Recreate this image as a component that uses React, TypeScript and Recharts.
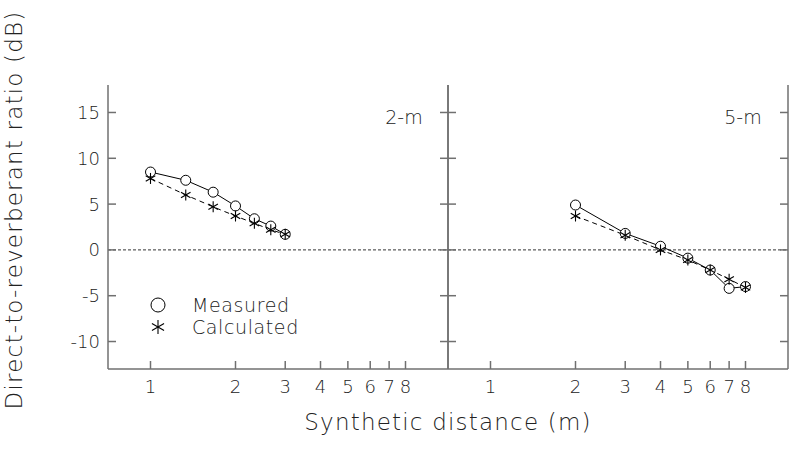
import { LineChart, Line, XAxis, YAxis, ReferenceLine } from 'recharts';

const distances2m = [1, 1.333, 1.667, 2, 2.333, 2.667, 3];
const measured2m = [8.5, 7.6, 6.3, 4.8, 3.4, 2.6, 1.7];
const calculated2m = [7.8, 6.0, 4.7, 3.7, 2.9, 2.2, 1.7];

const distances5m = [2, 3, 4, 5, 6, 7, 8];
const measured5m = [4.9, 1.8, 0.4, -0.9, -2.2, -4.2, -4.0];
const calculated5m = [3.7, 1.6, 0.0, -1.1, -2.2, -3.2, -4.1];

const xTicks = [1, 2, 3, 4, 5, 6, 7, 8];
const yTicks = [-10, -5, 0, 5, 10, 15];

const X_DOMAIN = [Math.SQRT1_2, 8 * Math.SQRT2];
const Y_DOMAIN = [-13, 18];

const FONT = '"DejaVu Sans", sans-serif';
const FRAME = '#707070';
const INK = '#222';
const TICK_LEN = 8;

const rows = (xs: number[], m: number[], c: number[]) =>
  xs.map((d, i) => ({ d, measured: m[i], calculated: c[i] }));

const textStyle = { fontFamily: FONT, fontWeight: 200, fill: INK } as const;

function BottomTick({ x, y, payload }: any) {
  return (
    <g>
      <line x1={x} x2={x} y1={y} y2={y - TICK_LEN} stroke={FRAME} strokeWidth={1.5} />
      <text x={x} y={y + 17} textAnchor="middle" dominantBaseline="central" fontSize={18} {...textStyle}>
        {payload.value}
      </text>
    </g>
  );
}

function TopTick({ x, y }: any) {
  return <line x1={x} x2={x} y1={y} y2={y + TICK_LEN} stroke={FRAME} strokeWidth={1.5} />;
}

function LeftTick({ x, y, payload, labels }: any) {
  return (
    <g>
      <line x1={x} x2={x + TICK_LEN} y1={y} y2={y} stroke={FRAME} strokeWidth={1.5} />
      {labels && (
        <text x={x - 8} y={y} textAnchor="end" dominantBaseline="central" fontSize={18} {...textStyle}>
          {payload.value}
        </text>
      )}
    </g>
  );
}

function RightTick({ x, y }: any) {
  return <line x1={x} x2={x - TICK_LEN} y1={y} y2={y} stroke={FRAME} strokeWidth={1.5} />;
}

function Star({ cx, cy, size = 5.5 }: any) {
  if (cx == null || cy == null) return null;
  const a = size * Math.cos(Math.PI / 6);
  const b = size * Math.sin(Math.PI / 6);
  return (
    <g stroke="#000" strokeWidth={1.1}>
      <line x1={cx} x2={cx} y1={cy - size} y2={cy + size} />
      <line x1={cx - a} x2={cx + a} y1={cy - b} y2={cy + b} />
      <line x1={cx - a} x2={cx + a} y1={cy + b} y2={cy - b} />
    </g>
  );
}

function Panel({ data, showYLabels, width, margin }: any) {
  return (
    <LineChart width={width} height={456} data={data} margin={margin}>
      <XAxis
        dataKey="d"
        type="number"
        scale="log"
        domain={X_DOMAIN}
        allowDataOverflow
        ticks={xTicks}
        interval={0}
        height={30}
        tickSize={0}
        tickMargin={0}
        tickLine={false}
        axisLine={{ stroke: FRAME, strokeWidth: 1.5 }}
        tick={<BottomTick />}
      />
      <XAxis
        xAxisId="top"
        orientation="top"
        dataKey="d"
        type="number"
        scale="log"
        domain={X_DOMAIN}
        allowDataOverflow
        ticks={xTicks}
        interval={0}
        height={0}
        tickSize={0}
        tickMargin={0}
        tickLine={false}
        axisLine={{ stroke: FRAME, strokeWidth: 1.5 }}
        tick={<TopTick />}
      />
      <YAxis
        type="number"
        domain={Y_DOMAIN}
        ticks={yTicks}
        interval={0}
        width={showYLabels ? 40 : 1}
        tickSize={0}
        tickMargin={0}
        tickLine={false}
        axisLine={{ stroke: FRAME, strokeWidth: 1.5 }}
        tick={<LeftTick labels={showYLabels} />}
      />
      <YAxis
        yAxisId="r"
        orientation="right"
        type="number"
        domain={Y_DOMAIN}
        ticks={yTicks}
        interval={0}
        width={1}
        tickSize={0}
        tickMargin={0}
        tickLine={false}
        axisLine={{ stroke: FRAME, strokeWidth: 1.5 }}
        tick={<RightTick />}
      />
      <ReferenceLine y={0} stroke="#333" strokeWidth={1} strokeDasharray="3 2" />
      <Line
        dataKey="measured"
        xAxisId="top"
        yAxisId="r"
        stroke="none"
        dot={false}
        activeDot={false}
        isAnimationActive={false}
      />
      <Line
        dataKey="measured"
        stroke="#000"
        strokeWidth={1}
        dot={{ r: 5, fill: '#fff', stroke: '#000', strokeWidth: 1 }}
        activeDot={false}
        isAnimationActive={false}
      />
      <Line
        dataKey="calculated"
        stroke="#000"
        strokeWidth={1}
        strokeDasharray="5 4"
        dot={(p: any) => <Star key={p.index} cx={p.cx} cy={p.cy} />}
        activeDot={false}
        isAnimationActive={false}
      />
    </LineChart>
  );
}

export default function App() {
  return (
    <div style={{ position: 'absolute', left: 0, top: 0, width: 800, height: 456, background: '#fff' }}>
      <div style={{ position: 'absolute', left: 0, top: 0 }}>
        <Panel
          data={rows(distances2m, measured2m, calculated2m)}
          showYLabels
          width={449}
          margin={{ top: 85, right: 0, bottom: 57, left: 68 }}
        />
      </div>
      <div style={{ position: 'absolute', left: 447, top: 0 }}>
        <Panel
          data={rows(distances5m, measured5m, calculated5m)}
          showYLabels={false}
          width={342}
          margin={{ top: 85, right: 0, bottom: 57, left: 0 }}
        />
      </div>
      <svg
        width={800}
        height={456}
        style={{ position: 'absolute', left: 0, top: 0, pointerEvents: 'none' }}
      >
        <text x={404} y={117} textAnchor="middle" dominantBaseline="central" fontSize={19} {...textStyle}>
          2-m
        </text>
        <text x={743} y={117} textAnchor="middle" dominantBaseline="central" fontSize={19} {...textStyle}>
          5-m
        </text>
        <circle cx={158} cy={305} r={7} fill="none" stroke="#000" strokeWidth={1} />
        <text x={192} y={305} dominantBaseline="central" fontSize={19} letterSpacing={0.6} {...textStyle}>
          Measured
        </text>
        <Star cx={158} cy={327} size={7} />
        <text x={192} y={327} dominantBaseline="central" fontSize={19} letterSpacing={0.6} {...textStyle}>
          Calculated
        </text>
        <text
          x={448}
          y={422}
          textAnchor="middle"
          dominantBaseline="central"
          fontSize={23}
          letterSpacing={1.2}
          {...textStyle}
        >
          Synthetic distance (m)
        </text>
        <text
          x={14}
          y={210}
          transform="rotate(-90 14 210)"
          textAnchor="middle"
          dominantBaseline="central"
          fontSize={23}
          letterSpacing={1.2}
          {...textStyle}
        >
          Direct-to-reverberant ratio (dB)
        </text>
      </svg>
    </div>
  );
}
